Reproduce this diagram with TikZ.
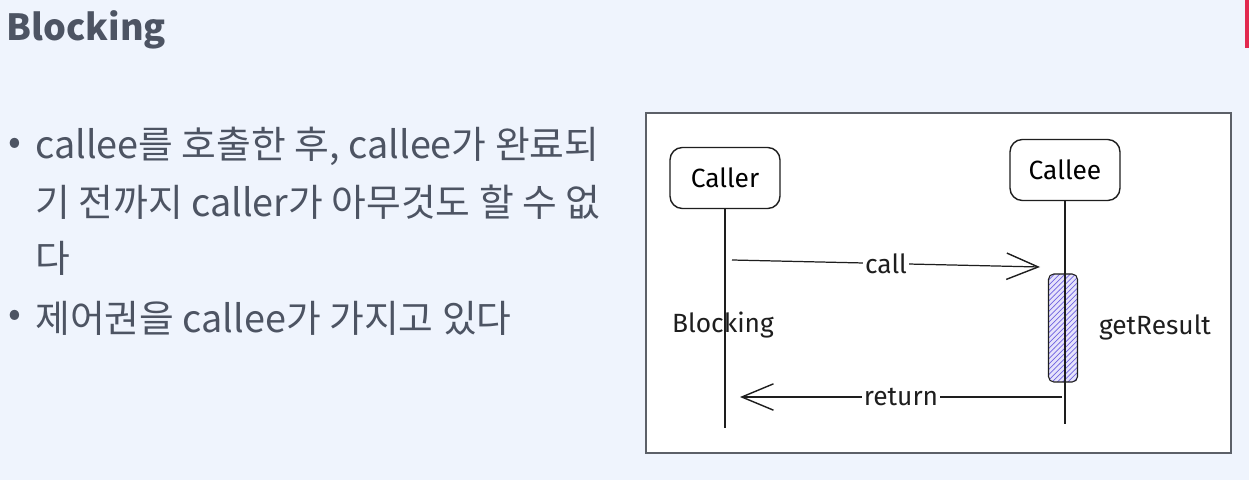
\documentclass[tikz,border=0pt]{standalone}
\usepackage{fontspec}
\setmainfont{Noto Sans CJK KR}
\newfontfamily\sketchfont{Fira Sans}
\usepackage{tikz}
\usetikzlibrary{arrows.meta, patterns}
\definecolor{pagebg}{HTML}{EFF4FD}
\definecolor{slidetext}{HTML}{4D5463}
\definecolor{accent}{HTML}{E2294F}
\definecolor{hatch}{HTML}{6F63E0}
\definecolor{barfill}{HTML}{E6E3FB}
\definecolor{frame}{HTML}{5C6068}
\definecolor{ink}{HTML}{1E1E1E}

\begin{document}
\begin{tikzpicture}[x=0.02cm, y=-0.02cm, every node/.style={inner sep=0pt},
    line/.style={anchor=west, text=slidetext, font=\fontsize{21.5pt}{26pt}\selectfont},
    actor/.style={draw=ink, line width=0.8pt, rounded corners=7pt, minimum width=2.2cm, minimum height=1.22cm, font=\sketchfont\fontsize{15pt}{18pt}\selectfont},
    sketch/.style={text=ink, font=\sketchfont\fontsize{15pt}{18pt}\selectfont},
    msg/.style={ink, line width=0.7pt, -{Straight Barb[length=18pt, width=15pt, line width=0.8pt]}},
    lifeline/.style={ink, line width=0.7pt}]
    \fill[pagebg] (0,0) rectangle (1249,480);
    \useasboundingbox (0,0) rectangle (1249,480);
    \fill[accent] (1245,0) rectangle (1249,48);

    \node[anchor=west, text=slidetext, font=\fontsize{20.5pt}{24pt}\selectfont\bfseries] (title) at (6,30) {Blocking};

    \node[line] (b1) at (8,146) {•};
    \node[line] (l1) at (35,146) {callee를 호출한 후, callee가 완료되};
    \node[line] (l2) at (35,202) {기 전까지 caller가 아무것도 할 수 없};
    \node[line] (l3) at (35,258) {다};
    \node[line] (b2) at (8,318) {•};
    \node[line] (l4) at (35,318) {제어권을 callee가 가지고 있다};

    \draw[frame, line width=1.1pt, fill=white] (646,113) rectangle (1231,453);

    \node[actor] (caller) at (725,178) {Caller};
    \node[actor] (callee) at (1065,170) {Callee};
    \coordinate (callerend) at (725,428);
    \coordinate (calleeend) at (1065,424);

    \node[draw=ink, line width=0.6pt, rounded corners=3pt, minimum width=0.58cm, minimum height=2.16cm,
          preaction={fill=barfill}, pattern=north east lines, pattern color=hatch] (bar) at (1063,328) {};

    \draw[lifeline] (caller.south) -- (callerend);
    \draw[lifeline] (callee.south) -- (calleeend);

    \coordinate (callstart) at (732,260);
    \coordinate (callend) at (1040,267);
    \coordinate (retstart) at (1062,397);
    \coordinate (retend) at (740,397);
    \draw[msg] (callstart) -- node[sketch, fill=white, inner sep=1pt] (calllabel) {call} (callend);
    \draw[msg] (retstart) -- node[sketch, fill=white, inner sep=1pt] (retlabel) {return} (retend);

    \node[sketch] (blocking) at (723,325) {Blocking};
    \node[sketch] (getresult) at (1155,327) {getResult};
\end{tikzpicture}
\end{document}
